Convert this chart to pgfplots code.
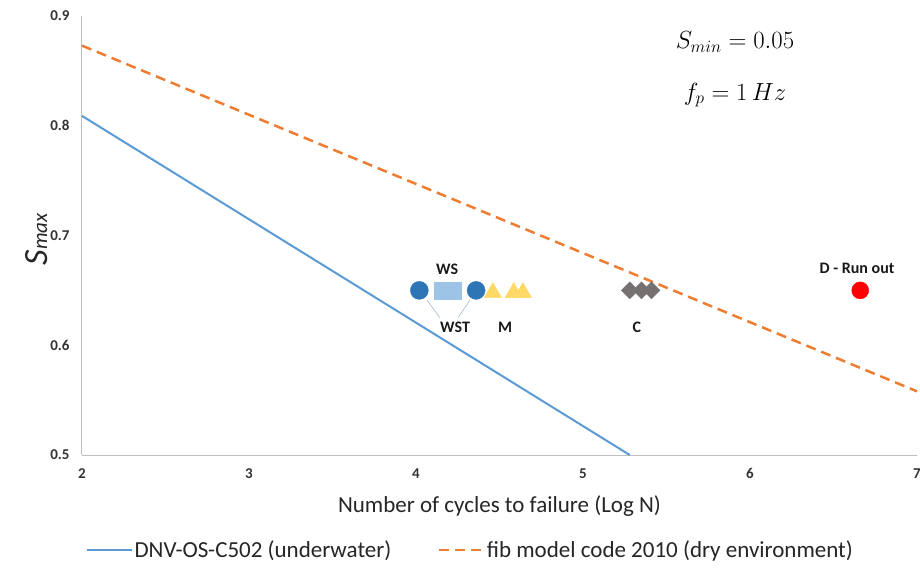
\documentclass[border=0pt]{standalone}
\usepackage{pgfplots}
\pgfplotsset{compat=1.18}
\usepackage{fontspec}
\setmainfont{Carlito}
\definecolor{dnvblue}{HTML}{5B9BD5}
\definecolor{fiborange}{HTML}{ED7D31}
\definecolor{circblue}{HTML}{2E75B6}
\definecolor{sqblue}{HTML}{9DC3E6}
\definecolor{trigold}{HTML}{FFD966}
\definecolor{diagray}{HTML}{767171}
\begin{document}
\begin{tikzpicture}
\path[use as bounding box] (-82bp,-117bp) rectangle (838bp,455bp);
\begin{axis}[
  at={(0,0)}, anchor=south west,
  scale only axis, width=835bp, height=439bp,
  xmin=2, xmax=7, ymin=0.5, ymax=0.9,
  xtick={2,3,4,5,6,7}, ytick={0.5,0.6,0.7,0.8,0.9},
  axis x line*=bottom, axis y line*=left,
  axis line style={draw=black!25, line width=1bp},
  major tick length=0pt,
  /pgf/number format/assume math mode=true,
  yticklabel style={/pgf/number format/fixed, /pgf/number format/precision=1, /pgf/number format/fixed zerofill, font=\fontsize{15bp}{17bp}\selectfont\bfseries, color=black!80, xshift=-9bp},
  xticklabel style={font=\fontsize{15bp}{17bp}\selectfont\bfseries, color=black!80, yshift=-10bp},
  xlabel={Number of cycles to failure (Log N)},
  xlabel style={font=\fontsize{23bp}{26bp}\selectfont, color=black!85, yshift=-10bp},
  ylabel={\textit{S}\kern0.5bp{\fontsize{21bp}{24bp}\selectfont\textit{max}}},
  ylabel style={font=\fontsize{34bp}{38bp}\selectfont, color=black!85, xshift=-4bp, yshift=-4bp},
  clip=false,
  legend style={at={(0.465,-0.216)}, anchor=center, draw=none, font=\fontsize{23bp}{26bp}\selectfont, text=black!85,
    /tikz/every even column/.append style={column sep=44bp}, cells={anchor=west}, inner sep=0pt,
    nodes={inner xsep=2bp}},
  legend columns=2,
  legend image code/.code={\draw[#1] (0bp,0bp) -- (45bp,0bp);},
]
\addplot[dnvblue, line width=2bp] coordinates {(2,0.809) (5.28,0.5)};
\addlegendentry{DNV-OS-C502 (underwater)}
\addplot[fiborange, line width=2.5bp, dash pattern=on 10bp off 6bp] coordinates {(2,0.873) (7,0.558)};
\addlegendentry{fib model code 2010 (dry environment)}

\draw[sqblue!80!black!70, line width=0.6bp] (axis cs:4.066,0.641) -- (axis cs:4.144,0.625);
\draw[sqblue!80!black!70, line width=0.6bp] (axis cs:4.323,0.641) -- (axis cs:4.251,0.625);

\addplot[only marks, mark=*, mark size=9bp, mark options={fill=circblue, draw=circblue}, forget plot] coordinates {(4.02,0.65) (4.36,0.65)};
\addplot[only marks, mark=square*, mark size=8.5bp, mark options={xscale=1.6, fill=sqblue, draw=sqblue}, forget plot] coordinates {(4.19,0.65)};
\addplot[only marks, mark=triangle*, mark size=10bp, mark options={fill=trigold, draw=trigold}, forget plot] coordinates {(4.46,0.648) (4.585,0.648) (4.64,0.648)};
\addplot[only marks, mark=square*, mark size=6bp, mark options={rotate=45, fill=diagray, draw=diagray}, forget plot] coordinates {(5.28,0.65) (5.35,0.65) (5.41,0.65)};
\addplot[only marks, mark=*, mark size=8.5bp, mark options={fill=red, draw=red}, forget plot] coordinates {(6.66,0.65)};

\begin{scope}[every node/.style={font=\fontsize{16bp}{18bp}\selectfont\bfseries, text=black!90}]
\node at (axis cs:4.186,0.669) {WS};
\node at (axis cs:4.234,0.6165) {WST};
\node at (axis cs:4.533,0.6165) {M};
\node at (axis cs:5.323,0.6165) {C};
\node at (axis cs:6.641,0.670) {D - Run out};
\end{scope}
\node[font=\fontsize{24bp}{28bp}\selectfont] at (axis cs:5.91,0.876) {$S_{min}=0.05$};
\node[font=\fontsize{24bp}{28bp}\selectfont] at (axis cs:5.91,0.828) {$f_p=1\,Hz$};
\end{axis}
\end{tikzpicture}
\end{document}
